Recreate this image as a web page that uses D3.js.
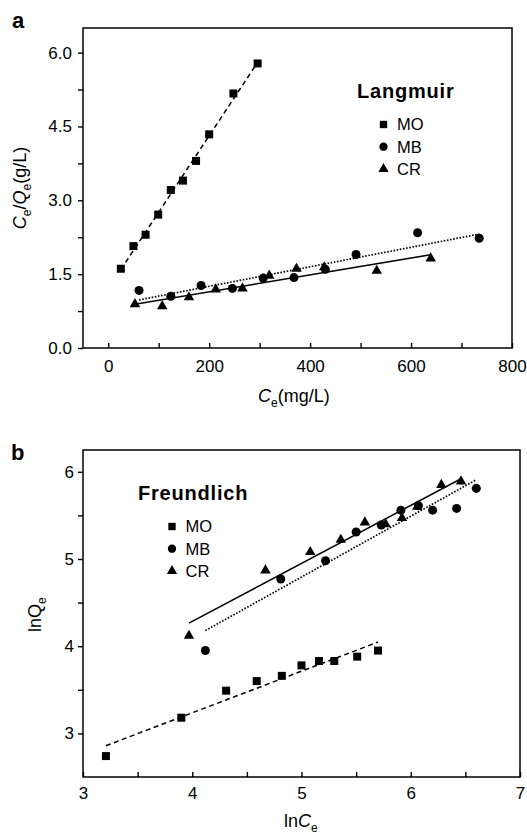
<!DOCTYPE html>
<html lang="en">
<head>
<meta charset="utf-8">
<title>Langmuir / Freundlich isotherms</title>
<script src="https://cdn.jsdelivr.net/npm/d3@7"></script>
<style>
body { margin: 0; background: #fff; }
text { font-family: "Liberation Sans", Arial, Helvetica, sans-serif; fill: #000; }
</style>
</head>
<body>
<script>
// ---- data ----
var seriesNames = ["MO", "MB", "CR"];

// panel a : Langmuir, Ce (mg/L) vs Ce/Qe (g/L)
var langMOx = [25, 50, 74, 99, 124, 148, 174, 200, 248, 296];
var langMOy = [1.61, 2.07, 2.30, 2.71, 3.21, 3.40, 3.80, 4.34, 5.17, 5.78];
var langMBx = [61, 124, 184, 246, 307, 368, 430, 491, 613, 735];
var langMBy = [1.17, 1.05, 1.27, 1.21, 1.42, 1.43, 1.60, 1.90, 2.34, 2.23];
var langCRx = [53, 107, 160, 213, 266, 319, 373, 428, 532, 639];
var langCRy = [0.89, 0.85, 1.03, 1.19, 1.21, 1.47, 1.61, 1.64, 1.57, 1.82];

// panel b : Freundlich, lnCe vs lnQe
var freMOx = [3.21, 3.90, 4.31, 4.59, 4.82, 5.00, 5.16, 5.30, 5.51, 5.70];
var freMOy = [2.74, 3.18, 3.49, 3.60, 3.66, 3.78, 3.83, 3.83, 3.88, 3.95];
var freMBx = [4.12, 4.81, 5.22, 5.50, 5.73, 5.91, 6.07, 6.20, 6.42, 6.60];
var freMBy = [3.95, 4.77, 4.98, 5.31, 5.39, 5.56, 5.61, 5.56, 5.58, 5.81];
var freCRx = [3.97, 4.67, 5.08, 5.36, 5.58, 5.77, 5.92, 6.06, 6.28, 6.46];
var freCRy = [4.12, 4.87, 5.08, 5.22, 5.42, 5.40, 5.47, 5.60, 5.85, 5.89];

var langXTicks = [0, 200, 400, 600, 800];
var langXMinor = [100, 300, 500, 700];
var langYTicks = [0, 1.5, 3.0, 4.5, 6.0];
var langYMinor = [0.75, 2.25, 3.75, 5.25];
var freXTicks = [3, 4, 5, 6, 7];
var freXMinor = [3.5, 4.5, 5.5, 6.5];
var freYTicks = [3, 4, 5, 6];
var freYMinor = [3.5, 4.5, 5.5];

var symbolTypes = { MO: d3.symbolSquare, MB: d3.symbolCircle, CR: d3.symbolTriangle };
var symbolSizes = { MO: 64, MB: 64, CR: 48 };
var lineDash = { MO: "5,3.5", MB: "1.6,1.6", CR: null };

var svg = d3.select("body").append("svg").attr("width", 527).attr("height", 836);

// least squares line between min and max x
function fitLine(xs, ys) {
  var mx = d3.mean(xs), my = d3.mean(ys);
  var sxy = 0, sxx = 0;
  for (var i = 0; i < xs.length; i++) {
    sxy += (xs[i] - mx) * (ys[i] - my);
    sxx += (xs[i] - mx) * (xs[i] - mx);
  }
  var b = sxy / sxx, a = my - b * mx;
  var x0 = d3.min(xs), x1 = d3.max(xs);
  return [[x0, a + b * x0], [x1, a + b * x1]];
}

function drawPanel(opt) {
  var x = opt.x, y = opt.y;
  var g = svg.append("g");
  var x0 = x.range()[0], x1 = x.range()[1], y0 = y.range()[0], y1 = y.range()[1];

  // frame
  g.append("rect").attr("x", x0).attr("y", y1).attr("width", x1 - x0).attr("height", y0 - y1)
    .attr("fill", "none").attr("stroke", "#000").attr("stroke-width", 1.5);

  // axes: y ticks outward, x ticks inward
  var ax = g.append("g").attr("transform", "translate(0," + y0 + ")")
    .call(d3.axisBottom(x).tickValues(opt.xTicks).tickFormat(opt.xFmt).tickSize(-5).tickSizeOuter(0).tickPadding(opt.xPad));
  g.append("g").attr("transform", "translate(0," + y0 + ")")
    .call(d3.axisBottom(x).tickValues(opt.xMinor).tickFormat("").tickSize(-5).tickSizeOuter(0));
  var ay = g.append("g").attr("transform", "translate(" + x0 + ",0)")
    .call(d3.axisLeft(y).tickValues(opt.yTicks).tickFormat(opt.yFmt).tickSize(5).tickSizeOuter(0).tickPadding(opt.yPad));
  g.append("g").attr("transform", "translate(" + x0 + ",0)")
    .call(d3.axisLeft(y).tickValues(opt.yMinor).tickFormat("").tickSize(5).tickSizeOuter(0));
  g.selectAll(".domain").attr("stroke", "none");
  g.selectAll(".tick line").attr("stroke", "#000").attr("stroke-width", 1.4);
  g.selectAll(".tick text").attr("font-size", 17).attr("font-family", "Liberation Sans, Arial, sans-serif");

  // fit lines
  opt.series.forEach(function(s) {
    var pts = fitLine(s.xs, s.ys);
    g.append("line")
      .attr("x1", x(pts[0][0])).attr("y1", y(pts[0][1]))
      .attr("x2", x(pts[1][0])).attr("y2", y(pts[1][1]))
      .attr("stroke", "#000").attr("stroke-width", s.name == "MB" ? 1.7 : 1.5)
      .attr("stroke-dasharray", lineDash[s.name]);
  });

  // markers
  opt.series.forEach(function(s) {
    var sym = d3.symbol().type(symbolTypes[s.name]).size(symbolSizes[s.name]);
    g.selectAll(null).data(d3.range(s.xs.length)).enter().append("path")
      .attr("d", sym)
      .attr("transform", function(i) { return "translate(" + x(s.xs[i]) + "," + y(s.ys[i]) + ")"; })
      .attr("fill", "#000");
  });

  // legend
  var lg = opt.legend;
  g.append("text").attr("x", lg.x).attr("y", lg.y).attr("font-size", 20).attr("font-weight", "bold")
    .attr("letter-spacing", 0.8).text(lg.title);
  seriesNames.forEach(function(n, i) {
    var cy = lg.y + 26.5 + i * 22.2;
    g.append("path").attr("d", d3.symbol().type(symbolTypes[n]).size(n == "CR" ? 46 : 54)())
      .attr("transform", "translate(" + lg.sx + "," + cy + ")").attr("fill", "#000");
    g.append("text").attr("x", lg.sx + 13.5).attr("y", cy).attr("dy", "0.36em")
      .attr("font-size", 16.5).text(n);
  });
  return g;
}

// panel a
var xA = d3.scaleLinear().domain([-50, 800]).range([83, 512]);
var yA = d3.scaleLinear().domain([0, 6.5]).range([348, 28]);
drawPanel({
  x: xA, y: yA,
  xTicks: langXTicks, xMinor: langXMinor, yTicks: langYTicks, yMinor: langYMinor,
  xFmt: d3.format("d"), yFmt: d3.format(".1f"), xPad: 12, yPad: 6,
  series: [
    { name: "MO", xs: langMOx, ys: langMOy },
    { name: "MB", xs: langMBx, ys: langMBy },
    { name: "CR", xs: langCRx, ys: langCRy }
  ],
  legend: { title: "Langmuir", x: 357, y: 98, sx: 383.5 }
});

// panel b
var xB = d3.scaleLinear().domain([3, 7]).range([83, 520]);
var yB = d3.scaleLinear().domain([2.5, 6.25]).range([777, 450]);
drawPanel({
  x: xB, y: yB,
  xTicks: freXTicks, xMinor: freXMinor, yTicks: freYTicks, yMinor: freYMinor,
  xFmt: d3.format("d"), yFmt: d3.format("d"), xPad: 10, yPad: 4,
  series: [
    { name: "MO", xs: freMOx, ys: freMOy },
    { name: "MB", xs: freMBx, ys: freMBy },
    { name: "CR", xs: freCRx, ys: freCRy }
  ],
  legend: { title: "Freundlich", x: 138, y: 500, sx: 172 }
});

// panel letters
svg.append("text").attr("x", 12).attr("y", 28).attr("font-size", 22).attr("font-weight", "bold").text("a");
svg.append("text").attr("x", 11).attr("y", 460).attr("font-size", 22).attr("font-weight", "bold").text("b");

// axis titles
function subText(sel, parts) {
  parts.forEach(function(p) {
    var t = sel.append("tspan").text(p.t);
    if (p.it) t.attr("font-style", "italic");
    if (p.sub) t.attr("font-size", 12).attr("dy", 5);
    if (p.after) t.attr("dy", -5);
  });
}

var ylA = svg.append("text").attr("transform", "translate(26,188) rotate(-90)")
  .attr("text-anchor", "middle").attr("font-size", 18);
subText(ylA, [{ t: "C", it: true }, { t: "e", sub: true }, { t: "/", after: true }, { t: "Q", it: true },
  { t: "e", sub: true }, { t: "(g/L)", after: true }]);

var xlA = svg.append("text").attr("x", 258).attr("y", 402).attr("font-size", 18);
subText(xlA, [{ t: "C", it: true }, { t: "e", sub: true }, { t: "(mg/L)", after: true }]);

var ylB = svg.append("text").attr("transform", "translate(41,632) rotate(-90)").attr("font-size", 18);
subText(ylB, [{ t: "lnQ" }, { t: "e", sub: true }]);

var xlB = svg.append("text").attr("x", 284).attr("y", 827).attr("font-size", 18);
subText(xlB, [{ t: "ln" }, { t: "C", it: true }, { t: "e", sub: true }]);
</script>
</body>
</html>
